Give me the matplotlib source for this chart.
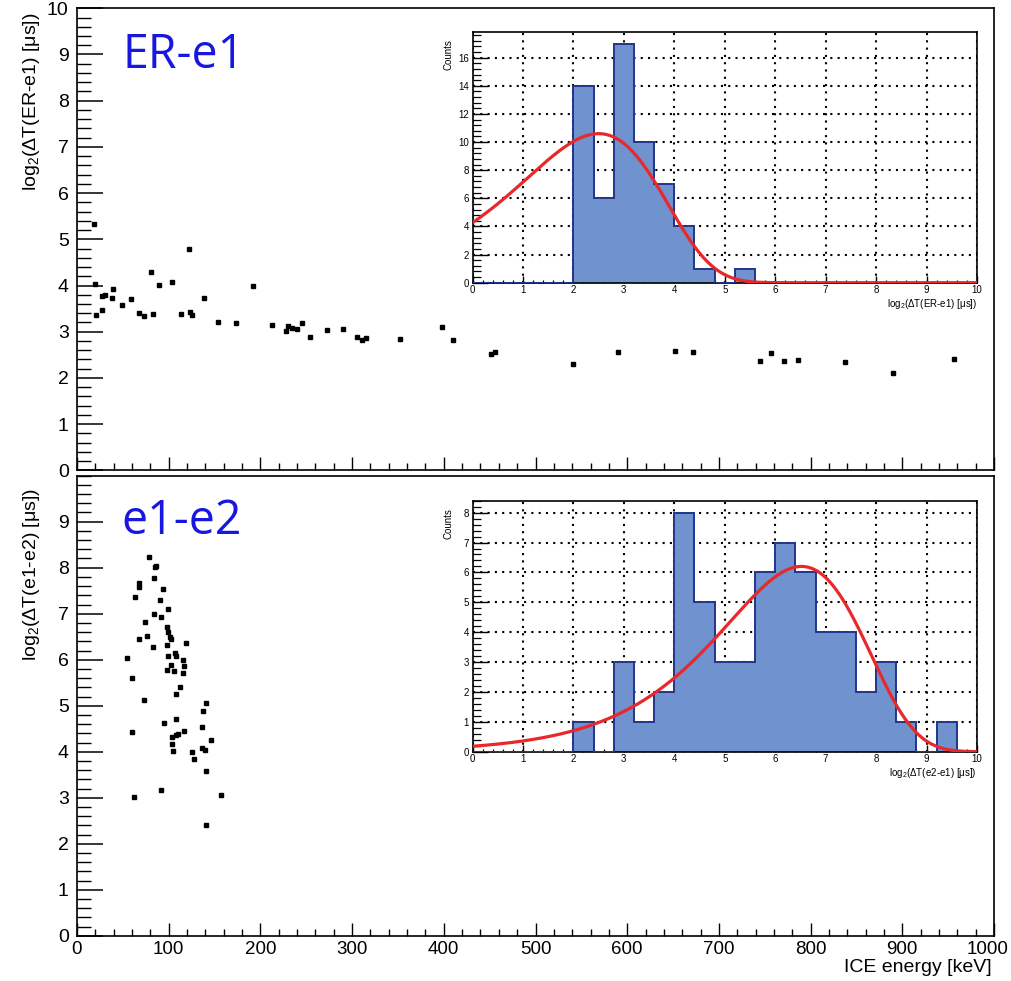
#!/usr/bin/env python
'''Time differences vs ICE energy, with log2 histograms and decay fits'''
import matplotlib
matplotlib.use('Agg')
import matplotlib.pyplot as plt
from matplotlib.ticker import MultipleLocator, FuncFormatter
import numpy as np

plt.rcParams['font.family'] = ['Liberation Sans', 'DejaVu Sans']
plt.rcParams['mathtext.fontset'] = 'custom'
plt.rcParams['mathtext.rm'] = 'Liberation Sans'
plt.rcParams['mathtext.it'] = 'Liberation Sans'

W, H = 1012, 981

# ER-e1 scatter: ICE energy [keV], log2(dT) [us]
er_energy = [18.5, 19.6, 20.4, 26.9, 30.5, 27.3, 38.9, 37.8, 49.4, 59.2,
             68.0, 73.4, 81.0, 83.2, 89.4, 103.6, 113.8, 122.1, 123.2, 125.4,
             138.8, 153.8, 173.4, 191.9, 213.0, 228.2, 229.7, 234.5, 240.3, 245.4,
             253.7, 272.3, 290.0, 305.2, 310.4, 315.0, 352.4, 398.5, 410.0, 451.0,
             455.6, 540.5, 589.9, 652.2, 671.5, 745.3, 756.8, 771.2, 785.9, 837.6,
             890.2, 956.6]
er_logdt = [5.33, 4.03, 3.36, 3.77, 3.79, 3.48, 3.92, 3.72, 3.57, 3.71,
            3.40, 3.35, 4.30, 3.39, 4.02, 4.07, 3.38, 4.80, 3.42, 3.36,
            3.72, 3.20, 3.19, 3.99, 3.15, 3.01, 3.12, 3.09, 3.06, 3.19,
            2.88, 3.04, 3.05, 2.89, 2.82, 2.86, 2.84, 3.10, 2.83, 2.51,
            2.57, 2.31, 2.55, 2.58, 2.55, 2.36, 2.54, 2.36, 2.39, 2.34,
            2.10, 2.40]

# e1-e2 scatter
ee_energy = [78.5, 86.2, 85.4, 68.0, 68.0, 84.3, 94.2, 62.9, 90.5, 99.2,
             84.3, 92.0, 74.2, 98.1, 98.9, 101.4, 102.2, 76.3, 67.3, 82.9,
             97.8, 118.9, 106.9, 108.0, 98.9, 54.9, 115.9, 117.1, 102.9, 98.5,
             106.2, 115.2, 59.6, 112.0, 107.6, 72.7, 140.7, 137.0, 94.5, 108.3,
             136.0, 117.1, 59.6, 110.1, 107.6, 103.9, 145.8, 103.6, 136.7, 139.9,
             104.7, 125.0, 127.6, 141.0, 92.0, 61.8, 156.7, 140.3]
ee_logdt = [8.23, 8.04, 8.01, 7.67, 7.59, 7.77, 7.53, 7.36, 7.30, 7.11,
            6.99, 6.92, 6.81, 6.72, 6.60, 6.49, 6.46, 6.52, 6.46, 6.27,
            6.31, 6.36, 6.15, 6.08, 6.09, 6.04, 6.00, 5.86, 5.88, 5.78,
            5.75, 5.72, 5.60, 5.40, 5.25, 5.13, 5.05, 4.88, 4.62, 4.71,
            4.53, 4.46, 4.42, 4.39, 4.37, 4.33, 4.25, 4.17, 4.07, 4.04,
            4.01, 4.00, 3.84, 3.59, 3.16, 3.02, 3.06, 2.40]

# histogram contents, 25 bins over log2 range 0..10
bin_edges = np.linspace(0, 10, 26)
er_counts = [0, 0, 0, 0, 0, 14, 6, 17, 10, 7, 4, 1, 0, 1,
             0, 0, 0, 0, 0, 0, 0, 0, 0, 0, 0]
ee_counts = [0, 0, 0, 0, 0, 1, 0, 3, 1, 2, 8, 5, 3, 3, 6, 7, 6, 4, 4, 2,
             3, 1, 0, 1, 0]

# decay fit in log2 space: peak height and peak position
er_fit_peak, er_fit_pos = 10.6, 2.5
ee_fit_peak, ee_fit_pos = 6.2, 6.52

HIST_FILL = '#7093cf'
HIST_EDGE = '#22358a'
FIT_RED = '#e8282a'
TAG_BLUE = '#1717e0'


def decay_log2(y, peak, pos):
    # exponential decay of dT, seen as a density in log2(dT)
    r = 2.0 ** y / 2.0 ** pos
    return peak * r * np.exp(1 - r)


def px_axes(fig, x0, y0, x1, y1):
    return fig.add_axes([x0 / W, 1 - y1 / H, (x1 - x0) / W, (y1 - y0) / H])


def style_main(ax, show_xlabels):
    ax.set_xlim(0, 1000)
    ax.set_ylim(0, 10)
    ax.xaxis.set_major_locator(MultipleLocator(100))
    ax.xaxis.set_minor_locator(MultipleLocator(20))
    ax.yaxis.set_major_locator(MultipleLocator(1))
    ax.yaxis.set_minor_locator(MultipleLocator(0.2))
    ax.tick_params(axis='y', which='major', direction='in', length=19, width=1.1,
                   labelsize=14, pad=6)
    ax.tick_params(axis='y', which='minor', direction='in', length=10, width=1.0)
    ax.tick_params(axis='x', which='major', direction='in', length=9.5, width=1.0,
                   labelsize=13.5, pad=4, labelbottom=show_xlabels)
    ax.tick_params(axis='x', which='minor', direction='in', length=5, width=1.0)
    for s in ax.spines.values():
        s.set_linewidth(1.2)


def draw_inset(ax, counts, peak, pos, ymax, ymajor, yminor, xlabel):
    ax.set_axisbelow(True)
    ax.stairs(counts, bin_edges, fill=True, color=HIST_FILL, zorder=2)
    ax.stairs(counts, bin_edges, color=HIST_EDGE, linewidth=1.4, zorder=3)
    xs = np.linspace(0, 10, 400)
    ax.plot(xs, decay_log2(xs, peak, pos), color=FIT_RED, linewidth=2.3, zorder=4)
    ax.set_xlim(0, 10)
    ax.set_ylim(0, ymax)
    ax.xaxis.set_major_locator(MultipleLocator(1))
    ax.xaxis.set_minor_locator(MultipleLocator(0.2))
    ax.yaxis.set_major_locator(MultipleLocator(ymajor))
    ax.yaxis.set_minor_locator(MultipleLocator(yminor))
    ax.grid(True, which='major', color='black', linestyle=(0, (1, 2.5)),
            linewidth=1.5)
    ax.tick_params(axis='y', which='major', direction='in', length=11, width=1.0,
                   labelsize=7, pad=2.5)
    ax.tick_params(axis='y', which='minor', direction='in', length=5.5, width=0.9)
    ax.tick_params(axis='x', which='major', direction='in', length=5, width=1.0,
                   labelsize=7, pad=2)
    ax.tick_params(axis='x', which='minor', direction='in', length=2.5, width=0.9)
    for s in ax.spines.values():
        s.set_linewidth(1.2)
    ax.text(1.0, -0.055, xlabel, transform=ax.transAxes, ha='right', va='top',
            fontsize=7)
    ax.text(-0.048, 0.97, 'Counts', transform=ax.transAxes, rotation=90,
            ha='center', va='top', fontsize=7)


fig = plt.figure(figsize=(W / 100, H / 100), dpi=100)

ax_top = px_axes(fig, 77, 8.3, 994, 470.3)
ax_bot = px_axes(fig, 77, 475.7, 994, 935.7)

ax_top.plot(er_energy, er_logdt, 's', color='black', markersize=2.6)
ax_bot.plot(ee_energy, ee_logdt, 's', color='black', markersize=3.2)
style_main(ax_top, False)
style_main(ax_bot, True)
ax_bot.set_yticks(np.arange(0, 10))

# last energy label is drawn separately so it stays inside the canvas
ax_bot.xaxis.set_major_formatter(
    FuncFormatter(lambda v, p: '' if v >= 1000 else f'{v:.0f}'))
fig.text(1009 / W, 1 - 941 / H, '1000', ha='right', va='top', fontsize=13.5)

fig.text(32 / W, 1 - 12 / H, r'log$_2$($\Delta$T(ER-e1) [$\mu$s])', rotation=90,
         ha='center', va='top', fontsize=14)
fig.text(32 / W, 1 - 488 / H, r'log$_2$($\Delta$T(e1-e2) [$\mu$s])', rotation=90,
         ha='center', va='top', fontsize=14)
fig.text(992 / W, 1 - 968 / H, 'ICE energy [keV]', ha='right', va='center',
         fontsize=14)

fig.text(123 / W, 1 - 68 / H, 'ER-e1', color=TAG_BLUE, fontsize=33.5,
         family='Open Sans', va='baseline')
fig.text(121 / W, 1 - 534 / H, 'e1-e2', color=TAG_BLUE, fontsize=33.5,
         family='Open Sans', va='baseline')

in_top = px_axes(fig, 472.5, 31.7, 977, 282.7)
draw_inset(in_top, er_counts, er_fit_peak, er_fit_pos, 17.85, 2, 0.4,
           r'log$_2$($\Delta$T(ER-e1) [$\mu$s])')
in_bot = px_axes(fig, 472.5, 500.7, 977, 751.7)
draw_inset(in_bot, ee_counts, ee_fit_peak, ee_fit_pos, 8.4, 1, 0.2,
           r'log$_2$($\Delta$T(e2-e1) [$\mu$s])')

fig.savefig('out.png', dpi=100)
